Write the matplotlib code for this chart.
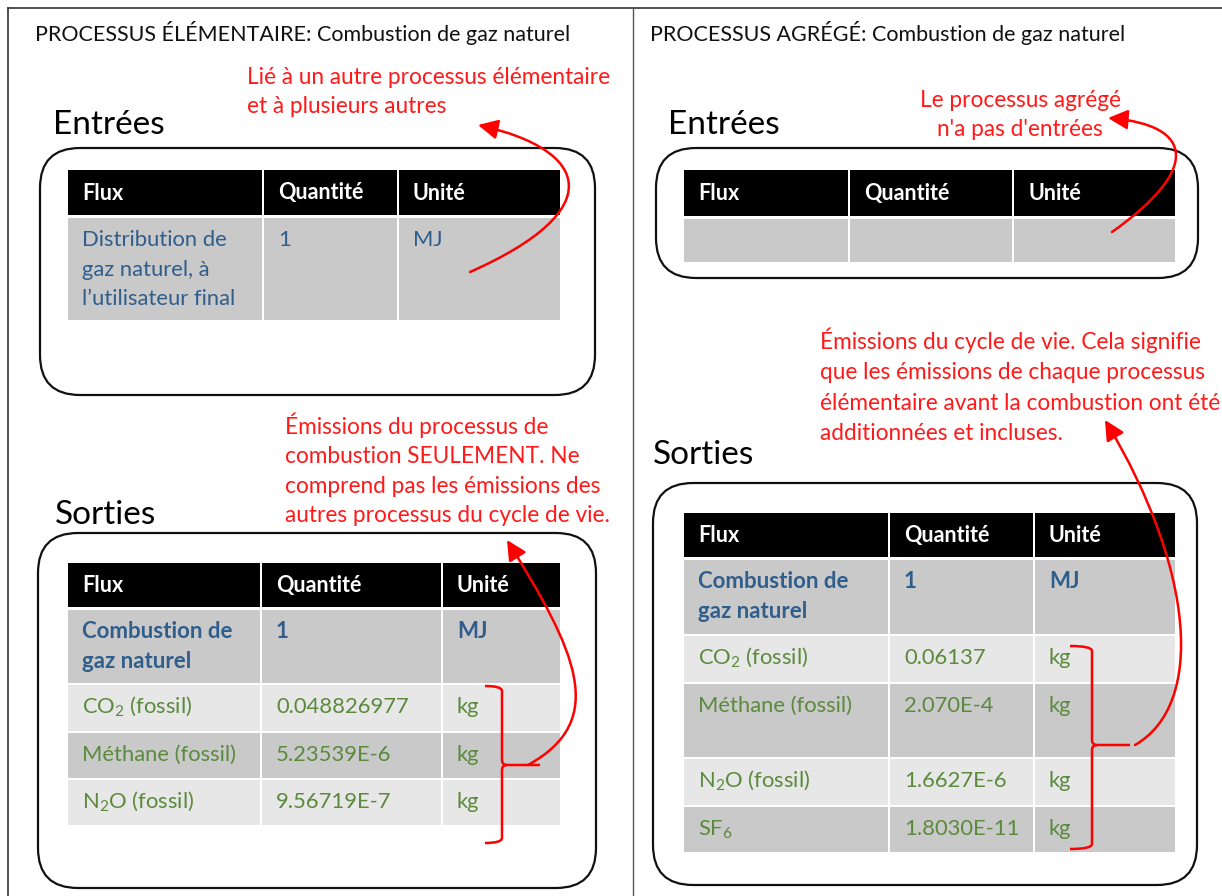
import matplotlib.pyplot as plt
from matplotlib.patches import Rectangle, FancyBboxPatch, FancyArrowPatch, PathPatch
from matplotlib.path import Path

plt.rcParams['font.family'] = ['Lato', 'DejaVu Sans']
plt.rcParams['mathtext.fontset'] = 'custom'
plt.rcParams['mathtext.rm'] = 'Lato'
plt.rcParams['mathtext.bf'] = 'Lato:bold'

# --- contenu ---
headers = ["Flux", "Quantité", "Unité"]

elem_in_flux = ["Distribution de\ngaz naturel, à\nl’utilisateur final"]
elem_in_qty = ["1"]
elem_in_unit = ["MJ"]

elem_out_flux = ["Combustion de\ngaz naturel", r"CO$_2$ (fossil)", "Méthane (fossil)", r"N$_2$O (fossil)"]
elem_out_qty = ["1", "0.048826977", "5.23539E-6", "9.56719E-7"]
elem_out_unit = ["MJ", "kg", "kg", "kg"]

agg_in_flux = [""]
agg_in_qty = [""]
agg_in_unit = [""]

agg_out_flux = ["Combustion de\ngaz naturel", r"CO$_2$ (fossil)", "Méthane (fossil)", r"N$_2$O (fossil)", r"SF$_6$"]
agg_out_qty = ["1", "0.06137", "2.070E-4", "1.6627E-6", "1.8030E-11"]
agg_out_unit = ["MJ", "kg", "kg", "kg", "kg"]

titles = ["PROCESSUS ÉLÉMENTAIRE: Combustion de gaz naturel",
          "PROCESSUS AGRÉGÉ: Combustion de gaz naturel"]

note_elem_in = ["Lié à un autre processus élémentaire", "et à plusieurs autres"]
note_elem_out = ["Émissions du processus de", "combustion SEULEMENT. Ne",
                 "comprend pas les émissions des", "autres processus du cycle de vie."]
note_agg_in = ["Le processus agrégé", "n'a pas d'entrées"]
note_agg_out = ["Émissions du cycle de vie. Cela signifie",
                "que les émissions de chaque processus",
                "élémentaire avant la combustion ont été",
                "additionnées et incluses."]

RED = '#ff1a1a'
BLUE = '#2f5d8c'
GREEN = '#5a8a3c'
DARK = '#c9c9c9'
LIGHT = '#e7e7e7'

fig = plt.figure(figsize=(12.22, 8.96), dpi=100)
ax = fig.add_axes([0, 0, 1, 1])
ax.set_xlim(0, 1222)
ax.set_ylim(896, 0)
ax.axis('off')

# cadre extérieur
ax.plot([8, 1222], [8, 8], color='#333333', lw=1.2)
ax.plot([8, 8], [8, 896], color='#333333', lw=1.2)
ax.plot([633, 633], [8, 896], color='#555555', lw=1.0)


def box(x0, y0, x1, y1):
    ax.add_patch(FancyBboxPatch((x0, y0), x1 - x0, y1 - y0,
                                boxstyle="round,pad=0,rounding_size=40",
                                fc='white', ec='#111111', lw=1.6))


def table(cols, head, rows, fills, flux, qty, unit, first_bold=True):
    gap = 2
    for c0, c1 in cols:
        ax.add_patch(Rectangle((c0, head[0]), c1 - c0 - gap, head[1] - head[0], fc='black', ec='none'))
    for j, h in enumerate(headers):
        ax.text(cols[j][0] + 14, (head[0] + head[1]) / 2 + 7, h, color='white',
                fontsize=15.5, fontweight='bold', va='baseline')
    for i, (r0, r1) in enumerate(rows):
        for c0, c1 in cols:
            ax.add_patch(Rectangle((c0, r0 + gap), c1 - c0 - gap, r1 - r0 - gap, fc=fills[i], ec='none'))
        bold = first_bold and i == 0
        color = BLUE if (i == 0) else GREEN
        for j, txt in enumerate([flux[i], qty[i], unit[i]]):
            for k, line in enumerate(txt.split('\n')):
                ax.text(cols[j][0] + 14, r0 + 30 + 29.5 * k, line, color=color,
                        fontsize=16 if bold else 15.8,
                        fontweight='bold' if bold else 'normal', va='baseline')


def note(x, ys, lines, ha='left'):
    for y, line in zip(ys, lines):
        ax.text(x, y, line, color=RED, fontsize=16.3, va='baseline', ha=ha)


def curve(pts):
    p = Path(pts, [Path.MOVETO, Path.CURVE4, Path.CURVE4, Path.CURVE4])
    ax.add_patch(FancyArrowPatch(path=p, arrowstyle='-|>,head_length=8,head_width=4',
                                 color='red', lw=1.8, mutation_scale=1.5))


def bracket(x_end, x_bar, y_top, y_mid, y_bot, x_tip):
    r = 5
    verts = [(x_end, y_top), (x_bar, y_top), (x_bar, y_top + r),
             (x_bar, y_mid - r), (x_bar, y_mid), (x_bar + r, y_mid),
             (x_tip, y_mid)]
    codes = [Path.MOVETO, Path.CURVE3, Path.CURVE3, Path.LINETO, Path.CURVE3, Path.CURVE3, Path.LINETO]
    ax.add_patch(PathPatch(Path(verts, codes), fc='none', ec='red', lw=1.8))
    verts2 = [(x_bar + r, y_mid), (x_bar, y_mid), (x_bar, y_mid + r),
              (x_bar, y_bot - r), (x_bar, y_bot), (x_end, y_bot)]
    codes2 = [Path.MOVETO, Path.CURVE3, Path.CURVE3, Path.LINETO, Path.CURVE3, Path.CURVE3]
    ax.add_patch(PathPatch(Path(verts2, codes2), fc='none', ec='red', lw=1.8))


# ---------- panneau gauche ----------
ax.text(35, 41, titles[0], fontsize=15.5, color='#111111', va='baseline')
ax.text(53, 134, "Entrées", fontsize=24, color='black', va='baseline')
ax.text(55, 524, "Sorties", fontsize=24, color='black', va='baseline')

box(40, 148, 595, 395)
table([(68, 264), (264, 399), (399, 562)], (170, 215), [(216, 320)], [DARK],
      elem_in_flux, elem_in_qty, elem_in_unit, first_bold=False)

box(38, 533, 596, 888)
table([(68, 262), (262, 443), (443, 562)], (563, 607),
      [(608, 683), (683, 731), (731, 778), (778, 825)],
      [DARK, LIGHT, DARK, LIGHT], elem_out_flux, elem_out_qty, elem_out_unit)

note(247, [84, 113], note_elem_in)
note(285, [434, 463, 493, 522], note_elem_out)

curve([(470, 272), (610, 210), (590, 150), (478, 125)])
bracket(485, 502, 686, 765, 843, 540)
curve([(528, 765), (610, 720), (575, 650), (507, 540)])

# ---------- panneau droit ----------
ax.text(650, 41, titles[1], fontsize=15.5, color='#111111', va='baseline')
ax.text(668, 134, "Entrées", fontsize=24, color='black', va='baseline')
ax.text(653, 464, "Sorties", fontsize=24, color='black', va='baseline')

box(656, 148, 1198, 278)
table([(684, 850), (850, 1014), (1014, 1177)], (170, 216), [(217, 262)], [DARK],
      agg_in_flux, agg_in_qty, agg_in_unit)

box(653, 483, 1197, 885)
table([(684, 890), (890, 1035), (1035, 1177)], (513, 557),
      [(558, 634), (634, 682), (682, 757), (757, 805), (805, 852)],
      [DARK, LIGHT, DARK, LIGHT, DARK], agg_out_flux, agg_out_qty, agg_out_unit)

note(1020, [107, 136], note_agg_in, ha='center')
note(820, [349, 379, 410, 440], note_agg_out)

curve([(1112, 232), (1200, 170), (1195, 125), (1108, 118)])
bracket(1070, 1092, 646, 745, 849, 1130)
curve([(1135, 745), (1205, 705), (1195, 570), (1105, 420)])

fig.savefig('out.png', dpi=100)
